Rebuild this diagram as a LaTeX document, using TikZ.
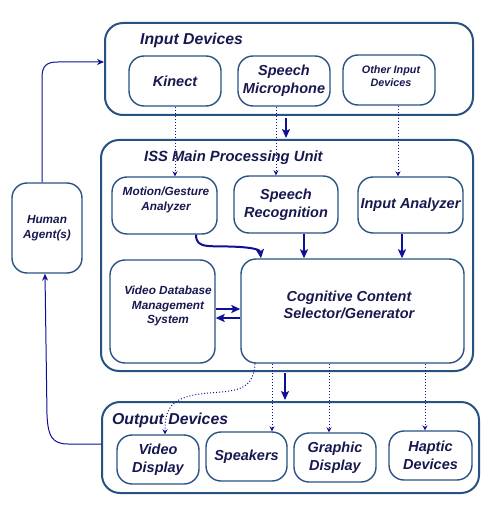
\documentclass[tikz,border=0pt]{standalone}
\usepackage{fontspec}
\setmainfont{Liberation Sans}
\usetikzlibrary{arrows.meta}
\definecolor{boxcol}{RGB}{40,82,130}
\definecolor{arrcol}{RGB}{16,16,150}
\definecolor{txtcol}{RGB}{24,24,80}
\tikzset{
  outerbox/.style={draw=boxcol, line width=2pt, rounded corners=18pt, inner sep=0pt},
  innerbox/.style={draw=boxcol, line width=1.4pt, rounded corners=15pt, inner sep=0pt, align=center,
     text=txtcol, font=\bfseries\itshape\fontsize{14.5}{18}\selectfont},
  smalltxt/.style={font=\bfseries\itshape\fontsize{11.8}{14.5}\selectfont},
  tinytxt/.style={font=\bfseries\itshape\fontsize{10.8}{12.5}\selectfont},
  titletxt/.style={text=txtcol, font=\bfseries\itshape\fontsize{15.8}{18}\selectfont, anchor=west, inner sep=0pt},
  txtnode/.style={text=txtcol, align=center, inner sep=0pt},
  bigarrow/.style={draw=arrcol, line width=2pt, -{Stealth[length=9pt,width=8pt,inset=2pt]}},
  dotarrow/.style={draw=arrcol, line width=1pt, dotted, -{Stealth[length=5pt,width=5pt]}},
  thinarrow/.style={draw=arrcol, line width=1pt, -{Stealth[length=7pt,width=6pt]}},
}
\begin{document}
\begin{tikzpicture}[x=1pt,y=-1pt]
\useasboundingbox (0,0) rectangle (502,505);
% outer containers
\node[outerbox, minimum width=368pt, minimum height=92pt] (inp) at (289,69) {};
\node[outerbox, minimum width=372pt, minimum height=231pt] (iss) at (287,255.5) {};
\node[outerbox, minimum width=377pt, minimum height=91pt] (out) at (290.5,447.5) {};
% titles
\node[titletxt] (inpT) at (140,40) {Input Devices};
\node[titletxt, font=\bfseries\itshape\fontsize{14.8}{18}\selectfont] (issT) at (144,158) {ISS Main Processing Unit};
\node[titletxt] (outT) at (112,420) {Output Devices};
% input devices
\node[innerbox, minimum width=92pt, minimum height=50pt] (kin) at (175,81) {Kinect};
\node[innerbox, minimum width=92pt, minimum height=50pt] (mic) at (284,81) {Speech\\Microphone};
\node[innerbox, tinytxt, minimum width=92pt, minimum height=50pt] (oth) at (389,80) {};
\node[txtnode, tinytxt] (othT) at (391,76) {Other Input\\Devices};
% processing
\node[innerbox, minimum width=105pt, minimum height=57pt] (mot) at (164.5,205.5) {};
\node[txtnode, smalltxt] (motT) at (166,200) {Motion/Gesture\\Analyzer};
\node[innerbox, minimum width=104pt, minimum height=57pt] (rec) at (286,204.5) {Speech\\Recognition};
\node[innerbox, minimum width=105pt, minimum height=56pt] (ana) at (410.5,205) {Input Analyzer};
\node[innerbox, minimum width=105pt, minimum height=103pt] (vdb) at (162.5,311.5) {};
\node[txtnode, smalltxt] (vdbT) at (168,306) {Video Database\\Management\\System};
\node[innerbox, minimum width=223pt, minimum height=104pt] (ccs) at (352.5,311) {};
\node[txtnode, font=\bfseries\itshape\fontsize{14.5}{17}\selectfont] (ccsT) at (349,305) {Cognitive Content\\Selector/Generator};
% human
\node[innerbox, smalltxt, minimum width=70pt, minimum height=90pt] (hum) at (47,228) {Human\\Agent(s)};
% output devices
\node[innerbox, minimum width=82pt, minimum height=49pt] (vid) at (158,459.5) {Video\\Display};
\node[innerbox, minimum width=81pt, minimum height=49pt] (spk) at (246.5,456.5) {Speakers};
\node[innerbox, minimum width=82pt, minimum height=49pt] (gra) at (335,457.5) {Graphic\\Display};
\node[innerbox, minimum width=83pt, minimum height=49pt] (hap) at (430.5,455.5) {Haptic\\Devices};
% coordinates for free ends
\coordinate (d1a) at (286,118);
\coordinate (d1b) at (286,138);
\coordinate (d2a) at (285,373);
\coordinate (d2b) at (285,400);
% big arrows between containers
\draw[bigarrow] (d1a) -- (d1b);
\draw[bigarrow] (d2a) -- (d2b);
% dotted arrows input -> processing
\draw[dotarrow] (kin.south -| 175,0) -- (mot.north -| 175,0);
\draw[dotarrow] (mic.south -| 276,0) -- (rec.north -| 276,0);
\draw[dotarrow] (oth.south -| 398,0) -- (ana.north -| 398,0);
% processing arrows
\draw[bigarrow] (mot.south -| 196,0) .. controls (196,250) and (210,245) .. (240,247) .. controls (255,248) and (260,250) .. (ccs.north -| 261,0);
\draw[bigarrow] (rec.south -| 304,0) -- (ccs.north -| 304,0);
\draw[bigarrow] (ana.south -| 402,0) -- (ccs.north -| 402,0);
\draw[bigarrow] (vdb.east |- 0,309) -- (ccs.west |- 0,309);
\draw[bigarrow] (ccs.west |- 0,318) -- (vdb.east |- 0,318);
% dotted arrows processing -> output
\draw[dotarrow] (ccs.south -| 255,0) .. controls (253,395) and (230,390) .. (200,394) .. controls (170,398) and (165,410) .. (vid.north -| 165,0);
\draw[dotarrow] (ccs.south -| 272,0) -- (spk.north -| 272,0);
\draw[dotarrow] (ccs.south -| 329,0) -- (gra.north -| 329,0);
\draw[dotarrow] (ccs.south -| 425,0) -- (hap.north -| 425,0);
% human loop
\draw[thinarrow] (hum.north -| 42,0) -- (42,78) .. controls (42,66) and (46,62) .. (58,62) -- (inp.west |- 0,62);
\draw[thinarrow] (out.west |- 0,444) -- (68,444) .. controls (52,444) and (48,436) .. (47,415) -- (hum.south -| 45,0);
\end{tikzpicture}
\end{document}
